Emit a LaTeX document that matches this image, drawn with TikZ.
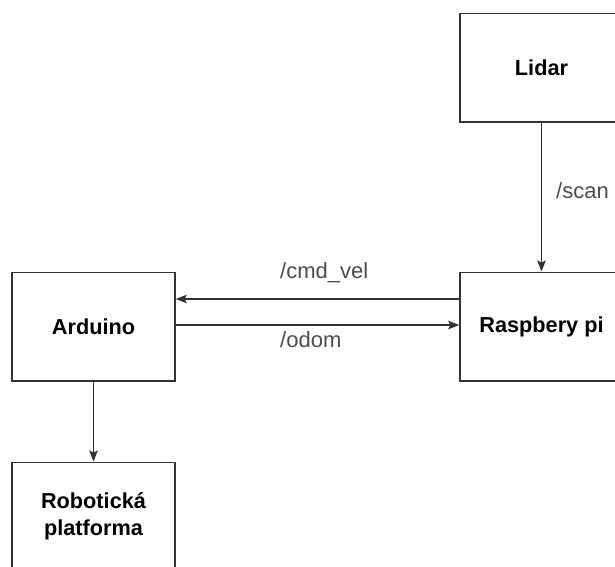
\documentclass[tikz,border=0pt]{standalone}
\usepackage{fontspec}
\setmainfont{Liberation Sans}
\usetikzlibrary{arrows.meta}
\begin{document}
\begin{tikzpicture}[x=1pt,y=-1pt,
  box/.style={draw=black!80, line width=1.5pt, minimum width=163pt, minimum height=108.5pt, inner sep=0pt, align=center, font=\fontsize{21.7}{27}\selectfont\bfseries},
  lbl/.style={inner sep=0pt, anchor=west, text=black!70, font=\fontsize{22}{26}\selectfont},
  arr/.style={-{Stealth[length=11pt,width=8.5pt,inset=2pt]}, line width=1.5pt, draw=black!80}]
\useasboundingbox (0,0) rectangle (615,566);
\clip (0,0) rectangle (615,566);
\node[box] (lidar) at (541.5,67.75) {Lidar};
\node[box] (rpi) at (541.5,326.5) {Raspbery pi};
\node[box] (ard) at (93.5,326.5) {Arduino};
\node[box] (robot) at (93.5,516.5) {Robotická\\platforma};
\draw[arr] (lidar.south) -- (rpi.north);
\draw[arr] ([yshift=27.5pt]rpi.west) -- ([yshift=27.5pt]ard.east);
\draw[arr] ([yshift=1.5pt]ard.east) -- ([yshift=1.5pt]rpi.west);
\draw[arr] (ard.south) -- (robot.north);
\node[lbl] (lscan) at (556,191) {/scan};
\node[lbl] (lcmd) at (280,272.6) {/cmd\_vel};
\node[lbl] (lodom) at (280,340) {/odom};
\end{tikzpicture}
\end{document}
